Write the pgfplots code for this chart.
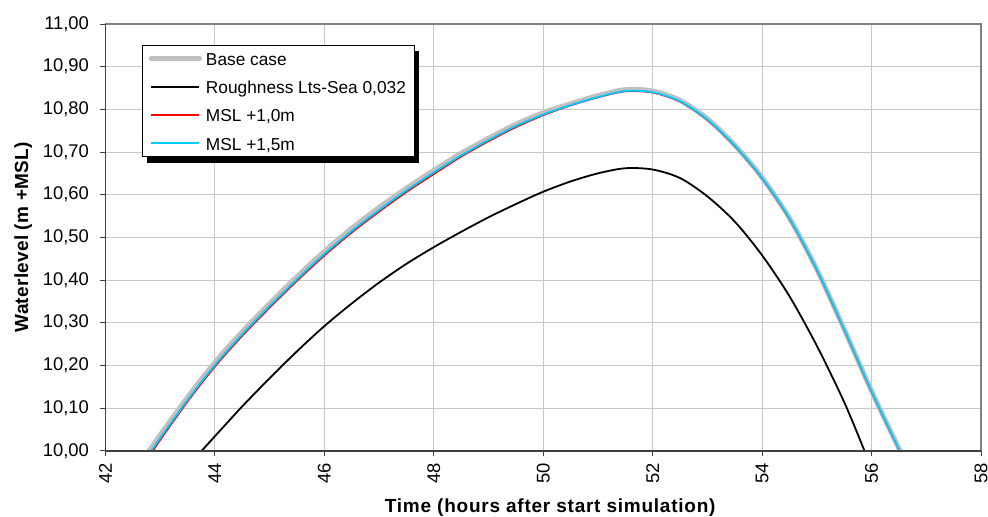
\documentclass[border=0pt]{standalone}
\usepackage{fontspec}
\setmainfont{Liberation Sans}
\newfontfamily\xlblfont[LetterSpace=4]{Liberation Sans}
\newfontfamily\ylblfont[LetterSpace=1.5]{Liberation Sans}
\usepackage{pgfplots}
\pgfplotsset{compat=1.18}
\usepackage{pgfplotstable}
\usetikzlibrary{shadows}

\definecolor{basegray}{RGB}{192,192,192}
\definecolor{gridgray}{RGB}{200,200,200}
\definecolor{framegray}{RGB}{128,128,128}
\definecolor{mslblue}{RGB}{0,204,255}

% the legend shadow must not be copied onto the legend lines
\makeatletter
\tikzset{nopre/.code={\let\tikz@preactions\pgfutil@empty}}
\makeatother
% legend rows of equal height
\newcommand{\lgtext}[1]{\rule{0pt}{15pt}\smash{#1}}

% time (h), waterlevel (m +MSL)
\pgfplotstableread{
t     h
42.80 10.000
43.00 10.037
43.50 10.125
44.00 10.207
44.50 10.279
45.00 10.345
45.50 10.408
46.00 10.467
46.50 10.521
47.00 10.570
47.50 10.615
48.00 10.657
48.50 10.697
49.00 10.732
49.50 10.765
50.00 10.792
50.50 10.813
51.00 10.832
51.50 10.846
52.00 10.843
52.50 10.821
53.00 10.778
53.50 10.716
54.00 10.640
54.50 10.545
55.00 10.425
55.50 10.285
56.00 10.140
56.52 10.000
}\basecase

\pgfplotstableread{
t     h
43.76 10.000
44.00 10.034
44.50 10.104
45.00 10.170
45.50 10.233
46.00 10.292
46.50 10.345
47.00 10.394
47.50 10.438
48.00 10.477
48.50 10.513
49.00 10.547
49.50 10.578
50.00 10.607
50.50 10.631
51.00 10.650
51.50 10.662
52.00 10.659
52.50 10.639
53.00 10.596
53.50 10.537
54.00 10.458
54.50 10.362
55.00 10.246
55.50 10.114
55.87 10.000
}\rough

\pgfplotstableread{
t     h
42.87 10.000
43.00 10.025
43.50 10.115
44.00 10.197
44.50 10.269
45.00 10.335
45.50 10.398
46.00 10.457
46.50 10.511
47.00 10.560
47.50 10.606
48.00 10.648
48.50 10.689
49.00 10.725
49.50 10.758
50.00 10.786
50.50 10.809
51.00 10.828
51.50 10.842
52.00 10.839
52.50 10.818
53.00 10.775
53.50 10.714
54.00 10.638
54.50 10.543
55.00 10.423
55.50 10.283
56.00 10.138
56.51 10.000
}\mslone

\pgfplotstableread{
t     h
42.84 10.000
43.00 10.030
43.50 10.119
44.00 10.201
44.50 10.273
45.00 10.339
45.50 10.402
46.00 10.461
46.50 10.515
47.00 10.564
47.50 10.610
48.00 10.652
48.50 10.692
49.00 10.728
49.50 10.761
50.00 10.788
50.50 10.810
51.00 10.829
51.50 10.843
52.00 10.840
52.50 10.819
53.00 10.776
53.50 10.715
54.00 10.639
54.50 10.544
55.00 10.424
55.50 10.284
56.00 10.139
56.51 10.000
}\mslonefive

\begin{document}
\begin{tikzpicture}
\begin{axis}[
    scale only axis,
    width=876pt,
    height=427pt,
    xmin=42, xmax=58,
    ymin=10, ymax=11,
    xtick={42,44,...,58},
    ytick={10,10.1,...,11.01},
    grid=major,
    grid style={gridgray, line width=0.8pt},
    axis line style={framegray, line width=1.2pt},
    tick align=outside,
    xtick pos=bottom,
    ytick pos=left,
    major tick length=5pt,
    tick style={black!75, line width=0.8pt},
    /pgf/number format/assume math mode=true,
    tick label style={font=\fontsize{18.4}{22}\selectfont},
    yticklabel style={xshift=-8pt, /pgf/number format/.cd, fixed, fixed zerofill, precision=2, use comma},
    xticklabel style={yshift=-4pt, rotate=90, anchor=east},
    xlabel={\xlblfont\bfseries Time (hours after start simulation)},
    ylabel={\ylblfont\bfseries Waterlevel (m +MSL)},
    xlabel style={at={(axis description cs:0.5,0)}, anchor=center, xshift=7pt, yshift=-57pt,
        font=\fontsize{19}{23}\selectfont},
    ylabel style={at={(axis description cs:0,0.5)}, anchor=center, yshift=82.2pt,
        font=\fontsize{19}{23}\selectfont},
    legend cell align=left,
    legend style={at={(36.2/876,1-21/427)}, anchor=north west,
        draw=black, line width=0.8pt, fill=white,
        drop shadow={shadow xshift=4.5pt, shadow yshift=-6pt, fill=black, opacity=1},
        inner xsep=6.6pt, inner ysep=3.2pt, row sep=7.7pt,
        font=\fontsize{17.3}{20}\selectfont},
    legend image code/.code={%
        \draw[nopre,#1] (0pt,0pt) -- (48.4pt,0pt);
        \path[nopre] (50.4pt,0pt);},
]
\addplot[basegray, line width=5pt, line cap=round, smooth] table[x=t, y=h] {\basecase};
\addlegendentry{\lgtext{Base case}}
\addplot[black, line width=1.8pt, smooth, legend image post style={line width=2pt}] table[x=t, y=h] {\rough};
\addlegendentry{\lgtext{Roughness Lts-Sea 0{,}032}}
\addplot[red, line width=1.5pt, smooth, legend image post style={line width=2.2pt}] table[x=t, y=h] {\mslone};
\addlegendentry{\lgtext{MSL +1{,}0m}}
\addplot[color=mslblue, line width=1.8pt, smooth, legend image post style={line width=2.2pt}] table[x=t, y=h] {\mslonefive};
\addlegendentry{\lgtext{MSL +1{,}5m}}
\end{axis}
\draw[black!75, line width=1.6pt] (current axis.north west) -- (current axis.south west) -- (current axis.south east);
\pgfresetboundingbox
\path ([xshift=-105.5pt, yshift=-66pt]current axis.south west) rectangle ([xshift=7pt, yshift=24pt]current axis.north east);
\end{tikzpicture}
\end{document}
